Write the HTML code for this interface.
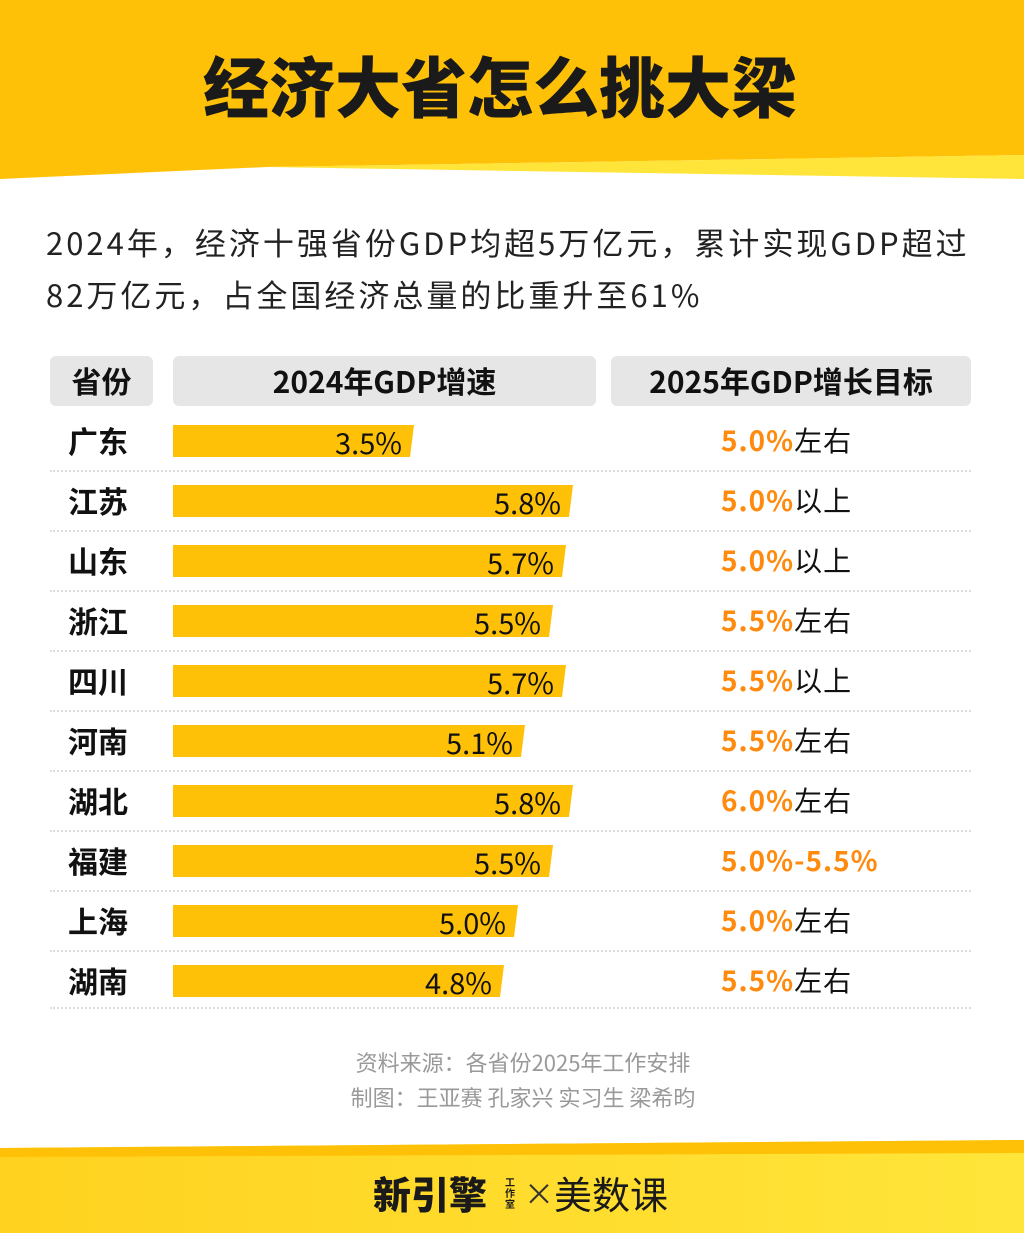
<!DOCTYPE html><html><head><meta charset="utf-8"><style>
*{margin:0;padding:0;box-sizing:border-box}
body{width:1024px;height:1233px;position:relative;background:#fff;overflow:hidden;font-family:"Noto Sans CJK SC","Liberation Sans",sans-serif;color:#111}
.a{position:absolute;white-space:nowrap}
.hd{position:absolute;top:356px;height:50px;background:#e6e6e6;border-radius:6px;font-weight:bold;font-size:30px;line-height:48px;text-align:center;color:#111}
.nm{position:absolute;left:68px;font-weight:bold;font-size:30px;line-height:38px}
.bar{position:absolute;left:173px;height:32px;background:#ffc107;font-size:29px;line-height:34px;text-align:right;padding-right:12px;color:#111}
.tg{position:absolute;left:721px;font-size:28px;line-height:38px;color:#111;letter-spacing:1px}
.tg b{color:#ff8a0d}
.sep{position:absolute;left:50px;width:921px;border-top:2px dotted #ddd}
</style></head><body>
<svg class="a" style="left:0;top:0" width="1024" height="190">
<polygon points="0,0 1024,0 1024,155 267,167 0,179" fill="#ffc107"/>
<polygon points="267,167 1024,155 1024,179" fill="#ffe53a"/>
</svg>
<div class="a" style="left:0;width:1000px;top:42px;text-align:center;font-size:66px;font-weight:900;line-height:84px;color:#1a1a1a">经济大省怎么挑大梁</div>
<div class="a" style="left:46px;top:216px;font-size:31px;letter-spacing:3px;line-height:52px;color:#222;white-space:normal;width:990px">2024年，经济十强省份GDP均超5万亿元，累计实现GDP超过<br>82万亿元，占全国经济总量的比重升至61%</div>
<div class="hd" style="left:50px;width:103px">省份</div>
<div class="hd" style="left:173px;width:423px">2024年GDP增速</div>
<div class="hd" style="left:611px;width:360px">2025年GDP增长目标</div>

<div class="nm" style="top:421px">广东</div><div class="bar" style="top:425px;width:241px;clip-path:polygon(0 0,100% 0,calc(100% - 4px) 100%,0 100%)">3.5%</div><div class="tg" style="top:421px"><b>5.0%</b>左右</div><div class="sep" style="top:470px"></div>
<div class="nm" style="top:481px">江苏</div><div class="bar" style="top:485px;width:400px;clip-path:polygon(0 0,100% 0,calc(100% - 4px) 100%,0 100%)">5.8%</div><div class="tg" style="top:481px"><b>5.0%</b>以上</div><div class="sep" style="top:530px"></div>
<div class="nm" style="top:541px">山东</div><div class="bar" style="top:545px;width:393px;clip-path:polygon(0 0,100% 0,calc(100% - 4px) 100%,0 100%)">5.7%</div><div class="tg" style="top:541px"><b>5.0%</b>以上</div><div class="sep" style="top:590px"></div>
<div class="nm" style="top:601px">浙江</div><div class="bar" style="top:605px;width:380px;clip-path:polygon(0 0,100% 0,calc(100% - 4px) 100%,0 100%)">5.5%</div><div class="tg" style="top:601px"><b>5.5%</b>左右</div><div class="sep" style="top:650px"></div>
<div class="nm" style="top:661px">四川</div><div class="bar" style="top:665px;width:393px;clip-path:polygon(0 0,100% 0,calc(100% - 4px) 100%,0 100%)">5.7%</div><div class="tg" style="top:661px"><b>5.5%</b>以上</div><div class="sep" style="top:710px"></div>
<div class="nm" style="top:721px">河南</div><div class="bar" style="top:725px;width:352px;clip-path:polygon(0 0,100% 0,calc(100% - 4px) 100%,0 100%)">5.1%</div><div class="tg" style="top:721px"><b>5.5%</b>左右</div><div class="sep" style="top:770px"></div>
<div class="nm" style="top:781px">湖北</div><div class="bar" style="top:785px;width:400px;clip-path:polygon(0 0,100% 0,calc(100% - 4px) 100%,0 100%)">5.8%</div><div class="tg" style="top:781px"><b>6.0%</b>左右</div><div class="sep" style="top:830px"></div>
<div class="nm" style="top:841px">福建</div><div class="bar" style="top:845px;width:380px;clip-path:polygon(0 0,100% 0,calc(100% - 4px) 100%,0 100%)">5.5%</div><div class="tg" style="top:841px"><b>5.0%-5.5%</b></div><div class="sep" style="top:890px"></div>
<div class="nm" style="top:901px">上海</div><div class="bar" style="top:905px;width:345px;clip-path:polygon(0 0,100% 0,calc(100% - 4px) 100%,0 100%)">5.0%</div><div class="tg" style="top:901px"><b>5.0%</b>左右</div><div class="sep" style="top:950px"></div>
<div class="nm" style="top:961px">湖南</div><div class="bar" style="top:965px;width:331px;clip-path:polygon(0 0,100% 0,calc(100% - 4px) 100%,0 100%)">4.8%</div><div class="tg" style="top:961px"><b>5.5%</b>左右</div><div class="sep" style="top:1007px"></div>

<div class="a" style="left:0;width:1046px;top:1046px;text-align:center;font-size:22px;line-height:32px;color:#999">资料来源：各省份2025年工作安排</div>
<div class="a" style="left:0;width:1046px;top:1081px;text-align:center;font-size:22px;line-height:32px;color:#999">制图：王亚赛 孔家兴 实习生 梁希昀</div>

<svg class="a" style="left:0;top:1135px" width="1024" height="98">
<defs><linearGradient id="g" x1="0" x2="1"><stop offset="0" stop-color="#ffd21f"/><stop offset="1" stop-color="#ffe53a"/></linearGradient></defs>
<polygon points="0,13 1024,5 1024,98 0,98" fill="url(#g)"/>
<polygon points="0,13 1024,5 1024,18 0,22" fill="#ffc107"/>
</svg>
<div class="a" style="left:373px;top:1168px;font-size:38px;font-weight:900;line-height:50px;color:#1a1a1a">新引擎</div>
<div class="a" style="left:505px;top:1176px;font-size:10px;line-height:11px;width:12px;white-space:normal;font-weight:bold;color:#1a1a1a">工作室</div>
<div class="a" style="left:524px;top:1172px;font-size:30px;line-height:40px;color:#333">×</div>
<div class="a" style="left:554px;top:1168px;font-size:38px;line-height:50px;color:#1a1a1a">美数课</div>
</body></html>
